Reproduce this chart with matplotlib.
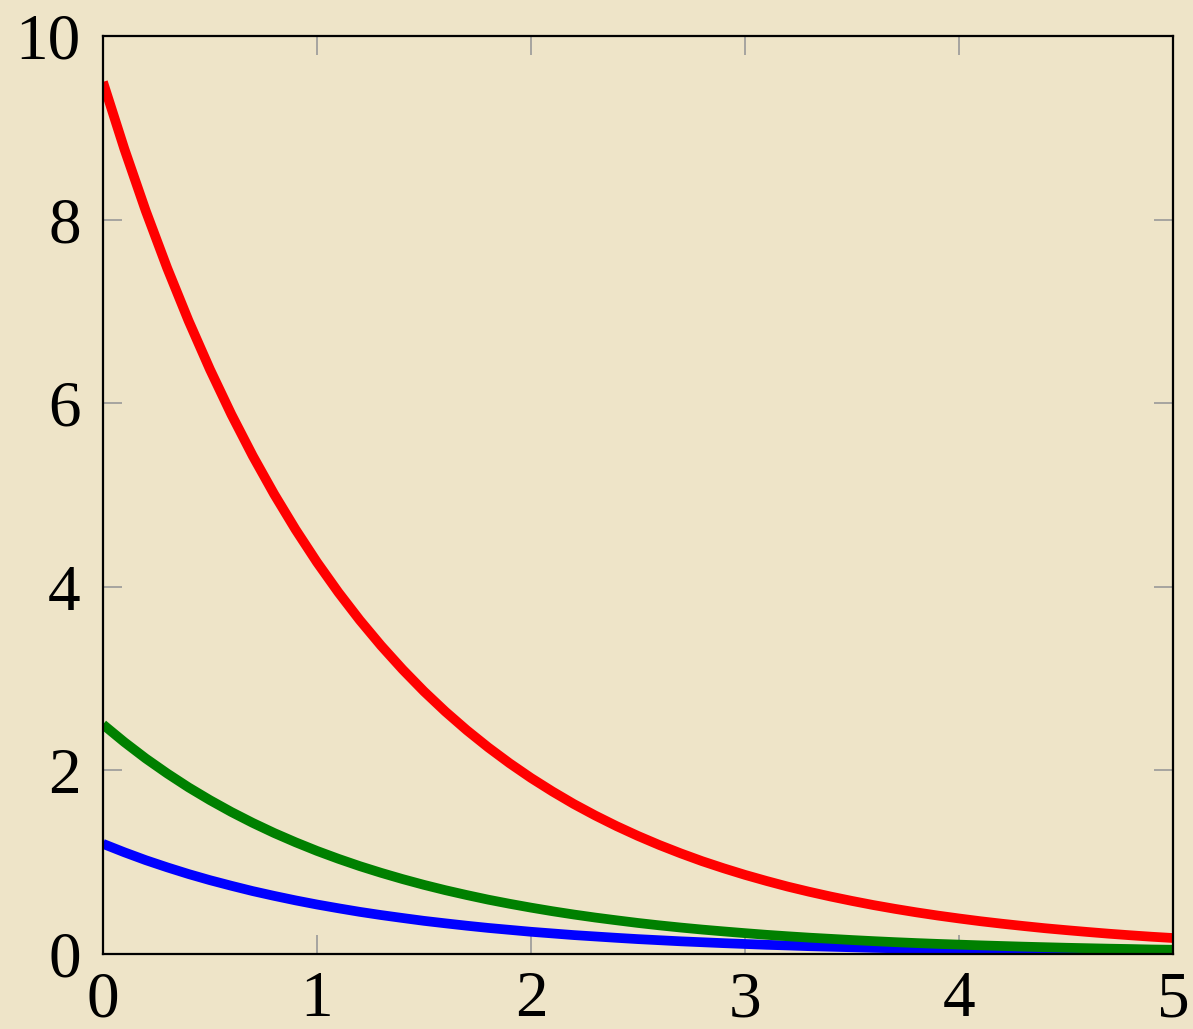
import matplotlib
matplotlib.use("Agg")
import matplotlib.pyplot as plt

# sample positions 0.0, 0.1, ..., 5.0
x = [i / 10 for i in range(51)]
red = [9.500, 8.770, 8.095, 7.473, 6.898, 6.368, 5.878, 5.426, 5.009, 4.624,
       4.268, 3.940, 3.637, 3.358, 3.100, 2.861, 2.641, 2.438, 2.251, 2.078,
       1.918, 1.771, 1.634, 1.509, 1.393, 1.286, 1.187, 1.096, 1.011, 0.934,
       0.862, 0.796, 0.734, 0.678, 0.626, 0.578, 0.533, 0.492, 0.454, 0.419,
       0.387, 0.357, 0.330, 0.305, 0.281, 0.260, 0.240, 0.221, 0.204, 0.188,
       0.174]
green = [2.500, 2.308, 2.130, 1.967, 1.815, 1.676, 1.547, 1.428, 1.318, 1.217,
         1.123, 1.037, 0.957, 0.884, 0.816, 0.753, 0.695, 0.642, 0.592, 0.547,
         0.505, 0.466, 0.430, 0.397, 0.367, 0.338, 0.312, 0.288, 0.266, 0.246,
         0.227, 0.209, 0.193, 0.178, 0.165, 0.152, 0.140, 0.129, 0.119, 0.110,
         0.102, 0.094, 0.087, 0.080, 0.074, 0.068, 0.063, 0.058, 0.054, 0.049,
         0.046]
blue = [1.200, 1.108, 1.022, 0.944, 0.871, 0.804, 0.743, 0.685, 0.633, 0.584,
        0.539, 0.498, 0.459, 0.424, 0.392, 0.361, 0.334, 0.308, 0.284, 0.263,
        0.242, 0.224, 0.206, 0.191, 0.176, 0.162, 0.150, 0.138, 0.128, 0.118,
        0.109, 0.100, 0.093, 0.085, 0.079, 0.073, 0.067, 0.062, 0.057, 0.053,
        0.049, 0.045, 0.042, 0.038, 0.036, 0.033, 0.030, 0.028, 0.026, 0.024,
        0.022]

xticks = [0, 1, 2, 3, 4, 5]
yticks = [0, 2, 4, 6, 8, 10]

bg = "#EEE4C8"
plt.rcParams["font.family"] = ["Liberation Serif", "DejaVu Serif"]

fig = plt.figure(figsize=(11.93, 10.29), dpi=100, facecolor=bg)
ax = fig.add_axes([0.0863, 0.0729, 0.8969, 0.8921])
ax.set_facecolor(bg)

ax.plot(x, blue, color="#0000FF", linewidth=7, solid_capstyle="butt")
ax.plot(x, green, color="#008000", linewidth=7, solid_capstyle="butt")
ax.plot(x, red, color="#FF0000", linewidth=7, solid_capstyle="butt")

ax.set_xlim(0, 5)
ax.set_ylim(0, 10)
ax.set_xticks(xticks)
ax.set_yticks(yticks)
ax.tick_params(direction="in", length=14, width=1.2, color="#999999",
               top=True, right=True, labelsize=47)
ax.tick_params(axis="x", pad=12)
ax.tick_params(axis="y", pad=16)
for s in ax.spines.values():
    s.set_linewidth(1.6)
    s.set_color("black")

fig.savefig("out.png", dpi=100, facecolor=bg)
